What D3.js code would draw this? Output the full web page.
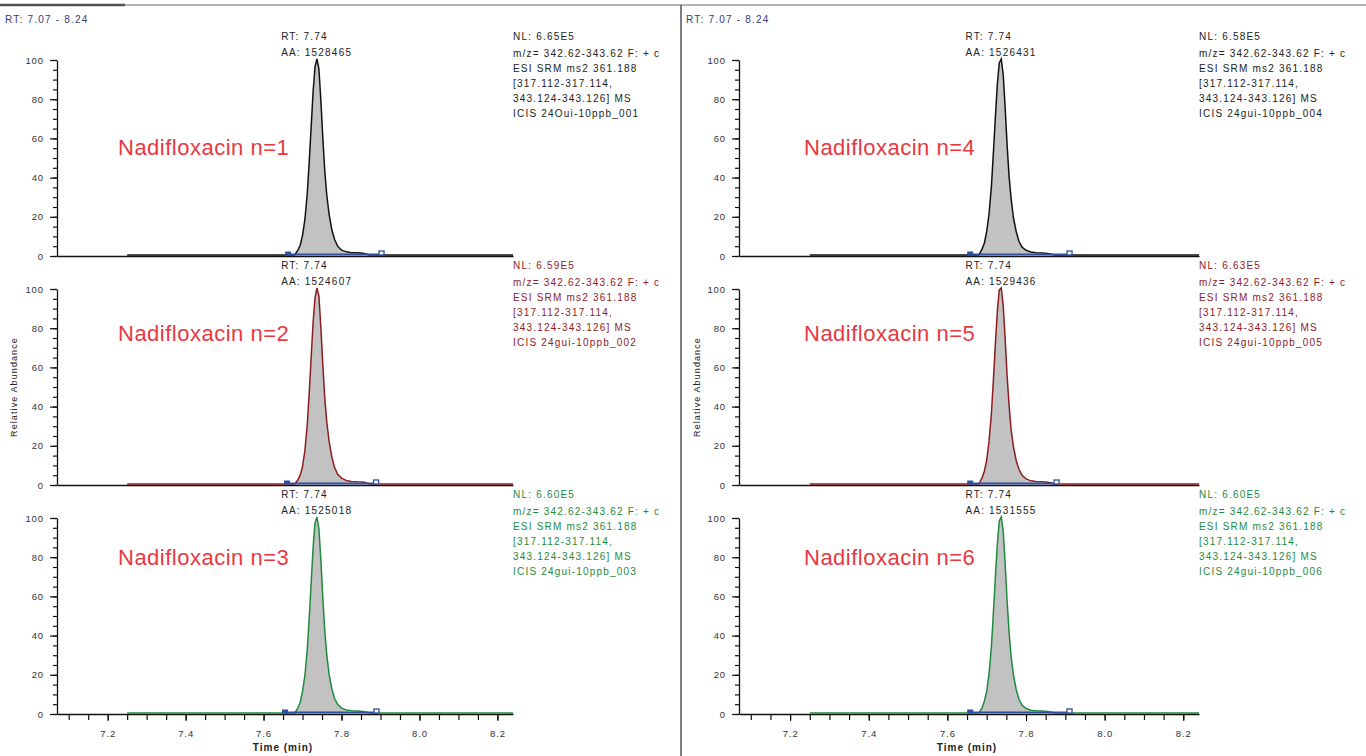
<!DOCTYPE html>
<html>
<head>
<meta charset="utf-8">
<script src="https://cdn.jsdelivr.net/npm/d3@7"></script>
<style>
  body { margin: 0; background: #fff; }
  svg { display: block; font-family: "Liberation Sans", Arial, sans-serif; }
</style>
</head>
<body>
<div id="chart"></div>
<script>
const timeRange = [7.07, 8.24];
const timeTicks = [7.2, 7.4, 7.6, 7.8, 8.0, 8.2];
const abundanceTicks = [0, 20, 40, 60, 80, 100];
const traceStart = 7.25;
const traceEnd = 8.24;

// scan times across the peak (min), relative abundance per run
const scanTimes = [7.680, 7.688, 7.694, 7.700, 7.706, 7.712, 7.717, 7.722, 7.727, 7.732, 7.737, 7.742, 7.747, 7.752,
  7.757, 7.762, 7.768, 7.775, 7.782, 7.790, 7.800, 7.812, 7.825, 7.840, 7.855, 7.865, 7.872];
const run1 = [0, 2.5, 5, 10, 18, 31, 47, 65, 83, 96, 100, 95, 79, 60, 43, 31, 21, 13, 8, 4.5, 2.5, 1.6, 1.2, 1.1, 0.9, 0.4, 0];
const run2 = [0, 2, 4.5, 9, 17, 30, 46, 64, 82, 95, 100, 96, 80, 61, 44, 32, 22, 14, 8.5, 5, 3, 1.8, 1.3, 1.1, 1.0, 0.5, 0];
const run3 = [0, 2.5, 5.5, 11, 19, 32, 48, 66, 84, 97, 100, 94, 78, 59, 42, 30, 20, 12.5, 7.5, 4.5, 2.5, 1.5, 1.1, 1.0, 0.8, 0.4, 0];
const run4 = [0, 3, 6, 12, 21, 35, 52, 70, 87, 98, 100, 92, 75, 56, 40, 29, 19, 12, 7, 4, 2.4, 1.5, 1.2, 1.0, 0.8, 0.4, 0];
const run5 = [0, 3, 6.5, 12, 22, 36, 53, 71, 88, 99, 100, 91, 74, 55, 40, 28, 19, 12, 7.5, 4.5, 2.6, 1.6, 1.3, 1.1, 0.9, 0.5, 0];
const run6 = [0, 2.5, 6, 11, 20, 34, 51, 69, 86, 98, 100, 93, 76, 57, 41, 29, 19.5, 12, 7, 4, 2.3, 1.4, 1.1, 1.0, 0.8, 0.4, 0];
const runs = [run1, run2, run3, run4, run5, run6];

const runLabels = ["Nadifloxacin n=1", "Nadifloxacin n=2", "Nadifloxacin n=3",
  "Nadifloxacin n=4", "Nadifloxacin n=5", "Nadifloxacin n=6"];
const peakRT = ["7.74", "7.74", "7.74", "7.74", "7.74", "7.74"];
const peakArea = ["1528465", "1524607", "1525018", "1526431", "1529436", "1531555"];
const normLevel = ["6.65E5", "6.59E5", "6.60E5", "6.58E5", "6.63E5", "6.60E5"];
const scanFilter = ["ESI SRM ms2 361.188", "ESI SRM ms2 361.188", "ESI SRM ms2 361.188",
  "ESI SRM ms2 361.188", "ESI SRM ms2 361.188", "ESI SRM ms2 361.188"];
const rawFiles = ["24Oui-10ppb_001", "24gui-10ppb_002", "24gui-10ppb_003",
  "24gui-10ppb_004", "24gui-10ppb_005", "24gui-10ppb_006"];
const baseStart = [7.663, 7.66, 7.655, 7.658, 7.658, 7.658];
const baseEnd = [7.904, 7.89, 7.891, 7.912, 7.879, 7.912];

const width = 1366, height = 756;
const cols = [{x0: 57, x1: 513, label: 118, yLabel: 14, header: 5},
              {x0: 739, x1: 1199, label: 804, yLabel: 697, header: 686}];
const rows = [{top: 60, bottom: 256, label: 147}, {top: 289, bottom: 485, label: 333}, {top: 518, bottom: 714, label: 557}];
const traceColors = ["#111111", "#8e1b1f", "#1e8a3e"];
const blue = "#2f4f9f";

const svg = d3.select("#chart").append("svg")
  .attr("width", width)
  .attr("height", height);

// frame lines
svg.append("line").attr("x1", 0).attr("x2", width).attr("y1", 5).attr("y2", 5)
  .attr("stroke", "#666").attr("stroke-width", 1.2);
svg.append("line").attr("x1", 0).attr("x2", 125).attr("y1", 5).attr("y2", 5)
  .attr("stroke", "#555").attr("stroke-width", 2.5);
svg.append("line").attr("x1", 681).attr("x2", 681).attr("y1", 5).attr("y2", height)
  .attr("stroke", "#555").attr("stroke-width", 1.5);

const small = g => g.attr("font-size", 10).attr("letter-spacing", 1.2);

cols.forEach(c => {
  svg.append("text").call(small)
    .attr("x", c.header).attr("y", 19).attr("dy", "0.35em")
    .attr("fill", "#34407a")
    .text("RT: " + timeRange[0].toFixed(2) + " - " + timeRange[1].toFixed(2));

  svg.append("text").call(small)
    .attr("font-size", 9).attr("letter-spacing", 1.1)
    .attr("transform", `translate(${c.yLabel},${(rows[1].top + rows[1].bottom) / 2}) rotate(-90)`)
    .attr("text-anchor", "middle").attr("dy", "0.35em")
    .attr("fill", "#222")
    .text("Relative Abundance");
});

runs.forEach((vals, i) => {
  const c = cols[Math.floor(i / 3)];
  const r = rows[i % 3];
  const color = traceColors[i % 3];

  const x = d3.scaleLinear().domain(timeRange).range([c.x0, c.x1]);
  const y = d3.scaleLinear().domain([0, 100]).range([r.bottom, r.top]);
  const g = svg.append("g");

  // y axis: minor every 5, labelled every 20
  g.append("g")
    .attr("transform", `translate(${c.x0},0)`)
    .call(d3.axisLeft(y).tickValues(y.ticks(20)).tickSize(4).tickFormat("").tickSizeOuter(0))
    .call(a => a.select(".domain").attr("stroke", "#111").attr("stroke-width", 1.3));
  g.append("g")
    .attr("transform", `translate(${c.x0},0)`)
    .call(d3.axisLeft(y).tickValues(abundanceTicks).tickSize(7).tickPadding(6).tickSizeOuter(0))
    .call(a => a.select(".domain").remove())
    .call(a => a.selectAll("text").attr("font-size", 9.5).attr("letter-spacing", 0.9).attr("fill", "#333")
      .attr("font-family", "Liberation Sans, Arial, sans-serif"));
  g.selectAll(".tick line").attr("stroke", "#111").attr("stroke-width", 1.2);

  // x axis line (ticks only on the bottom row)
  const isBottom = i % 3 === 2;
  const xa = g.append("g").attr("transform", `translate(0,${r.bottom})`);
  if (isBottom) {
    xa.call(d3.axisBottom(x).tickValues(x.ticks(24)).tickSize(6).tickFormat("").tickSizeOuter(0));
    const xl = g.append("g").attr("transform", `translate(0,${r.bottom})`)
      .call(d3.axisBottom(x).tickValues(timeTicks).tickSize(7).tickPadding(9)
        .tickFormat(d3.format(".1f")).tickSizeOuter(0));
    xl.select(".domain").remove();
    xl.selectAll("text").attr("font-size", 9.5).attr("letter-spacing", 0.9).attr("fill", "#333")
      .attr("font-family", "Liberation Sans, Arial, sans-serif");
    g.append("text")
      .attr("x", (c.x0 + c.x1) / 2 - 2).attr("y", 747).attr("dy", "0.35em")
      .attr("text-anchor", "middle").attr("font-size", 10).attr("font-weight", 600)
      .attr("letter-spacing", 1).attr("fill", "#222")
      .text("Time (min)");
  } else {
    xa.call(d3.axisBottom(x).tickValues([]).tickSizeOuter(0));
  }
  xa.selectAll(".tick line").attr("stroke", "#111").attr("stroke-width", 1.2);
  xa.select(".domain").attr("stroke", "#111").attr("stroke-width", 1.6);

  const pts = [[traceStart, 0]].concat(scanTimes.map((t, k) => [t, vals[k]]), [[traceEnd, 0]]);
  const peak = scanTimes.map((t, k) => [t, vals[k]]);

  g.append("path")
    .datum(peak)
    .attr("fill", "#c2c2c2")
    .attr("d", d3.area().x(d => x(d[0])).y0(y(0)).y1(d => y(d[1])));

  g.append("path")
    .datum(pts)
    .attr("fill", "none")
    .attr("stroke", color)
    .attr("stroke-width", 1.5)
    .attr("transform", "translate(0,-1)")
    .attr("d", d3.line().x(d => x(d[0])).y(d => y(d[1])));

  // integration baseline
  const by = y(0) - 1.5;
  g.append("line")
    .attr("x1", x(baseStart[i])).attr("x2", x(baseEnd[i]))
    .attr("y1", by).attr("y2", by)
    .attr("stroke", blue).attr("stroke-width", 2.2);

  g.append("rect")
    .attr("x", x(baseStart[i]) - 3).attr("y", by - 3).attr("width", 6).attr("height", 4)
    .attr("fill", blue);
  g.append("rect")
    .attr("x", x(baseEnd[i]) - 3).attr("y", by - 3.5).attr("width", 5).attr("height", 4)
    .attr("fill", "#fff").attr("stroke", blue).attr("stroke-width", 1.3);

  // peak labels
  const px = x(7.74) - 37;
  g.append("text").call(small).attr("x", px).attr("y", r.top - 24).attr("dy", "0.35em")
    .attr("fill", "#222").text("RT: " + peakRT[i]);
  g.append("text").call(small).attr("x", px).attr("y", r.top - 8).attr("dy", "0.35em")
    .attr("fill", "#222").text("AA: " + peakArea[i]);

  // scan info block
  const info = ["NL: " + normLevel[i], "m/z= 342.62-343.62 F: + c", scanFilter[i],
    "[317.112-317.114,", "343.124-343.126] MS", "ICIS " + rawFiles[i]];
  const infoY = [-24, -7, 8, 23, 38, 53];
  g.selectAll(".info").data(info).enter().append("text").call(small)
    .attr("x", c.x1).attr("y", (d, k) => r.top + infoY[k]).attr("dy", "0.35em")
    .attr("fill", color === "#111111" ? "#222" : color)
    .text(d => d);

  g.append("text")
    .attr("x", c.label).attr("y", r.label).attr("dy", "0.35em")
    .attr("font-size", 22).attr("letter-spacing", 0.5)
    .attr("fill", "#e8393f")
    .text(runLabels[i]);
});
</script>
</body>
</html>
